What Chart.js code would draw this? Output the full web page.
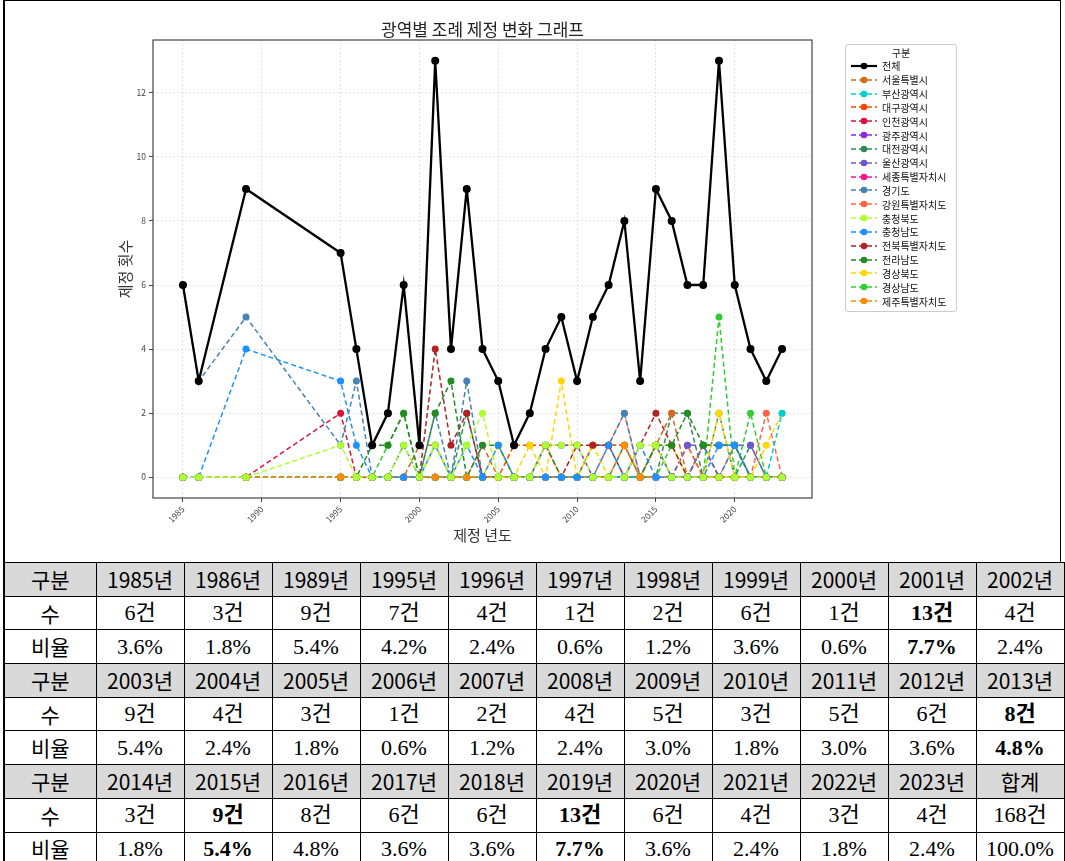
<!DOCTYPE html>
<html>
<head>
<meta charset="utf-8">
<script src="https://cdn.jsdelivr.net/npm/chart.js@4.4.1/dist/chart.umd.min.js"></script>
<style>
html,body{margin:0;padding:0;background:#fff;}
body{width:1065px;height:861px;position:relative;overflow:hidden;font-family:'Noto Sans CJK KR','Noto Sans',sans-serif;}
#frame{position:absolute;left:3px;top:0px;width:1058px;height:562px;border:1px solid #000;border-left-width:2px;border-bottom:none;box-sizing:border-box;}
#chartBox{position:absolute;left:0;top:0;width:1065px;height:555px;}
#legend{position:absolute;left:845px;top:44px;width:112px;border:1px solid #cccccc;border-radius:3px;background:#fff;box-sizing:border-box;padding:1px 0 3px 0;}
#legend .lt{height:13px;line-height:13px;font-size:10px;text-align:center;color:#111;}
#legend .li{height:13.84px;display:flex;align-items:center;font-size:10px;color:#111;white-space:nowrap;}
#legend .li svg{margin-left:4px;margin-right:4px;flex:none;}
table{position:absolute;left:3px;top:562px;width:1060px;border-collapse:collapse;table-layout:fixed;}
td{border:1px solid #000;padding:0;text-align:center;line-height:1;color:#000;overflow:hidden;white-space:nowrap;}
tr{height:33.7px;}
tr.hd td{background:#d9d9d9;font-family:'Noto Sans CJK KR',sans-serif;font-size:21px;}
tr.vl td{font-family:'Liberation Serif','Noto Sans CJK KR',serif;font-size:22px;}
tr.vl td.lab{font-family:'Noto Sans CJK KR',sans-serif;font-size:21px;}
td.b{font-weight:bold;}
td.first{border-left-width:2px;}
</style>
</head>
<body>
<div id="frame"></div>
<div id="chartBox"><canvas id="c" width="1065" height="555"></canvas></div>
<div id="legend"></div>
<table id="tbl"></table>
<script>
// ---------------- data ----------------
const YEARS = [1985,1986,1989,1995,1996,1997,1998,1999,2000,2001,2002,2003,2004,2005,2006,2007,2008,2009,2010,2011,2012,2013,2014,2015,2016,2017,2018,2019,2020,2021,2022,2023];
const TOTAL = [6,3,9,7,4,1,2,6,1,13,4,9,4,3,1,2,4,5,3,5,6,8,3,9,8,6,6,13,6,4,3,4];

const SEOUL    = [0,0,0,0,0,0,0,0,1,1,0,0,1,0,0,0,0,0,0,1,1,1,0,1,2,0,1,1,1,0,0,0];
const BUSAN    = [0,0,0,0,0,0,0,0,0,0,0,0,0,0,0,0,0,0,0,0,0,0,0,0,0,0,0,0,0,0,0,2];
const DAEGU    = [0,0,0,0,0,0,0,0,0,0,0,0,0,0,1,1,1,0,0,1,1,1,0,1,0,1,0,0,0,0,0,0];
const INCHEON  = [0,0,0,2,0,0,0,0,0,0,0,0,0,0,0,0,0,0,0,0,0,0,0,0,0,0,0,0,0,0,0,0];
const GWANGJU  = [0,0,0,0,0,0,0,0,0,0,0,0,0,0,0,0,1,1,1,0,0,0,0,0,0,0,1,0,0,0,0,0];
const DAEJEON  = [0,0,0,0,0,0,0,1,0,1,0,2,0,0,0,0,0,0,0,0,0,1,0,0,2,2,0,2,0,1,0,0];
const ULSAN    = [0,0,0,0,0,0,0,0,0,0,0,0,0,0,0,0,0,0,0,0,0,0,0,0,0,1,1,1,1,1,0,0];
const SEJONG   = [0,0,0,0,0,0,0,0,0,0,0,0,0,0,0,0,0,0,0,0,0,0,0,0,0,0,1,0,0,0,0,0];
const GYEONGGI = [6,3,5,1,3,0,0,0,0,2,0,3,0,0,0,0,0,0,0,1,1,2,0,1,0,0,1,0,1,0,0,0];
const GANGWON  = [0,0,0,0,0,0,0,0,0,0,0,0,0,0,0,0,0,0,0,0,1,2,0,1,0,0,0,0,1,0,2,0];
const CHUNGBUK = [0,0,0,1,0,0,0,1,0,1,0,1,2,0,0,0,1,1,1,0,0,0,1,1,0,0,0,0,0,0,0,0];
const CHUNGNAM = [0,0,4,3,1,0,0,0,0,1,0,1,0,1,0,0,0,0,0,0,1,0,1,0,0,0,0,1,1,0,0,0];
const JEONBUK  = [0,0,0,0,0,0,0,0,0,4,1,2,0,0,0,0,0,0,1,1,1,0,1,2,1,0,0,0,0,0,0,0];
const JEONNAM  = [0,0,0,0,0,1,1,2,0,2,3,0,1,1,0,0,1,0,0,0,0,0,0,1,1,2,1,1,1,0,0,0];
const GYEONGBUK= [0,0,0,0,0,0,0,0,0,1,0,0,0,1,0,1,0,3,0,1,0,0,0,1,1,0,0,2,0,0,1,2];
const GYEONGNAM= [0,0,0,0,0,0,1,2,0,0,0,0,0,0,0,0,0,0,0,0,0,0,0,0,1,0,0,5,0,2,0,0];
const JEJU     = [0,0,0,0,0,0,0,0,0,0,0,0,0,0,0,0,0,0,0,0,0,1,0,0,0,0,0,0,0,0,0,0];

const REGION_NAMES = ['서울특별시','부산광역시','대구광역시','인천광역시','광주광역시','대전광역시','울산광역시','세종특별자치시','경기도','강원특별자치도','충청북도','충청남도','전북특별자치도','전라남도','경상북도','경상남도','제주특별자치도'];
const REGION_VALUES = [SEOUL,BUSAN,DAEGU,INCHEON,GWANGJU,DAEJEON,ULSAN,SEJONG,GYEONGGI,GANGWON,CHUNGBUK,CHUNGNAM,JEONBUK,JEONNAM,GYEONGBUK,GYEONGNAM,JEJU];

const X_TICKS = [1985,1990,1995,2000,2005,2010,2015,2020];
const Y_TICKS = [0,2,4,6,8,10,12];

// table texts
const RATIO_TEXT = ['3.6%','1.8%','5.4%','4.2%','2.4%','0.6%','1.2%','3.6%','0.6%','7.7%','2.4%','5.4%','2.4%','1.8%','0.6%','1.2%','2.4%','3.0%','1.8%','3.0%','3.6%','4.8%','1.8%','5.4%','4.8%','3.6%','3.6%','7.7%','3.6%','2.4%','1.8%','2.4%'];
const SUM_COUNT = 168;
const SUM_RATIO = '100.0%';
const BOLD_YEARS = [2001,2013,2015,2019];

// ---------------- styles ----------------
const COLORS = ['#D2691E','#00CED1','#FF4500','#DC143C','#8A2BE2','#2E8B57','#6A5ACD','#FF1493','#4682B4','#FF6347','#ADFF2F','#1E90FF','#B22222','#228B22','#FFD700','#32CD32','#FF8C00'];
const DRAW_ORDER = [9,3.5,15,13,14,17,12,16,8,11,1,2,5,4,6,7,3];

const datasets = [{
  label:'전체',
  data: YEARS.map((x,i)=>({x:x, y:TOTAL[i]})),
  borderColor:'#000', backgroundColor:'#000', borderWidth:2.3,
  pointRadius:4, pointBackgroundColor:'#000', pointBorderColor:'#000', pointBorderWidth:0,
  order:0, tension:0
}];
REGION_NAMES.forEach((n,k)=>{
  datasets.push({
    label:n,
    data: YEARS.map((x,i)=>({x:x, y:REGION_VALUES[k][i]})),
    borderColor:COLORS[k], backgroundColor:COLORS[k], borderWidth:1.5, borderDash:[5,3],
    pointRadius:3.5, pointBackgroundColor:COLORS[k], pointBorderColor:COLORS[k], pointBorderWidth:0,
    order:DRAW_ORDER[k], tension:0
  });
});

const framePlugin = {
  id:'frame',
  afterDatasetsDraw(chart){
    const {ctx, chartArea:a} = chart;
    ctx.save();
    ctx.strokeStyle = '#444';
    ctx.lineWidth = 1.2;
    ctx.setLineDash([]);
    ctx.strokeRect(a.left, a.top, a.right - a.left, a.bottom - a.top);
    ctx.restore();
  }
};

Chart.defaults.font.family = "'Noto Sans CJK KR','Noto Sans',sans-serif";

new Chart(document.getElementById('c'), {
  type:'line',
  data:{datasets:datasets},
  plugins:[framePlugin],
  options:{
    responsive:false, animation:false, devicePixelRatio:1,
    layout:{padding:{left:0,right:253,top:0,bottom:0}},
    plugins:{
      legend:{display:false},
      tooltip:{enabled:false},
      title:{display:true, fullSize:false, text:'광역별 조례 제정 변화 그래프', color:'#222', font:{size:17, weight:'normal'}, padding:{top:19,bottom:0.6}}
    },
    scales:{
      x:{
        type:'linear', min:1983.1, max:2024.9,
        afterBuildTicks:(s)=>{ s.ticks = X_TICKS.map(v=>({value:v})); },
        afterFit:(s)=>{ s.height = 57; },
        ticks:{callback:(v)=>String(v), minRotation:45, maxRotation:45, autoSkip:false, font:{size:8.5}, color:'#444', padding:2},
        grid:{color:'rgba(0,0,0,0.1)', lineWidth:1, drawTicks:true, tickLength:4, tickColor:'#444', tickWidth:1},
        border:{display:false, dash:[2,2]},
        title:{display:true, text:'제정 년도', color:'#333', font:{size:15}, padding:{top:0,bottom:11}}
      },
      y:{
        type:'linear', min:-0.65, max:13.65,
        afterBuildTicks:(s)=>{ s.ticks = Y_TICKS.map(v=>({value:v})); },
        afterFit:(s)=>{ s.width = 153; },
        ticks:{callback:(v)=>String(v), font:{size:8.5}, color:'#444', padding:3},
        grid:{color:'rgba(0,0,0,0.1)', lineWidth:1, drawTicks:true, tickLength:4, tickColor:'#444', tickWidth:1},
        border:{display:false, dash:[2,2]},
        title:{display:true, text:'제정 횟수', color:'#333', font:{size:15}, padding:{top:116,bottom:0}}
      }
    }
  }
});

// ---------------- legend (HTML) ----------------
(function(){
  const lg = document.getElementById('legend');
  let html = '<div class="lt">구분</div>';
  const item = (name, color, solid) => {
    const line = solid
      ? `<line x1="1" y1="5" x2="27" y2="5" stroke="${color}" stroke-width="2.2"/>`
      : `<line x1="1" y1="5" x2="27" y2="5" stroke="${color}" stroke-width="1.5" stroke-dasharray="5,3"/>`;
    return `<div class="li"><svg width="28" height="10">${line}<circle cx="14" cy="5" r="3.3" fill="${color}"/></svg><span>${name}</span></div>`;
  };
  html += item('전체', '#000', true);
  REGION_NAMES.forEach((n,k)=>{ html += item(n, COLORS[k], false); });
  lg.innerHTML = html;
})();

// ---------------- table ----------------
(function(){
  const tbl = document.getElementById('tbl');
  let html = '<colgroup><col style="width:92px">';
  for (let i=0;i<11;i++) html += '<col style="width:88px">';
  html += '</colgroup>';
  const groups = [[0,11],[11,22],[22,32]];
  groups.forEach((g)=>{
    let h = '<tr class="hd"><td class="first">구분</td>';
    let c = '<tr class="vl"><td class="first lab">수</td>';
    let r = '<tr class="vl"><td class="first lab">비율</td>';
    for (let i=g[0];i<g[1];i++){
      const b = BOLD_YEARS.includes(YEARS[i]) ? ' class="b"' : '';
      h += `<td>${YEARS[i]}년</td>`;
      c += `<td${b}>${TOTAL[i]}건</td>`;
      r += `<td${b}>${RATIO_TEXT[i]}</td>`;
    }
    if (g[1]-g[0] < 11){
      h += '<td>합계</td>';
      c += `<td>${SUM_COUNT}건</td>`;
      r += `<td>${SUM_RATIO}</td>`;
    }
    html += h + '</tr>' + c + '</tr>' + r + '</tr>';
  });
  tbl.innerHTML = html;
})();
</script>
</body>
</html>
